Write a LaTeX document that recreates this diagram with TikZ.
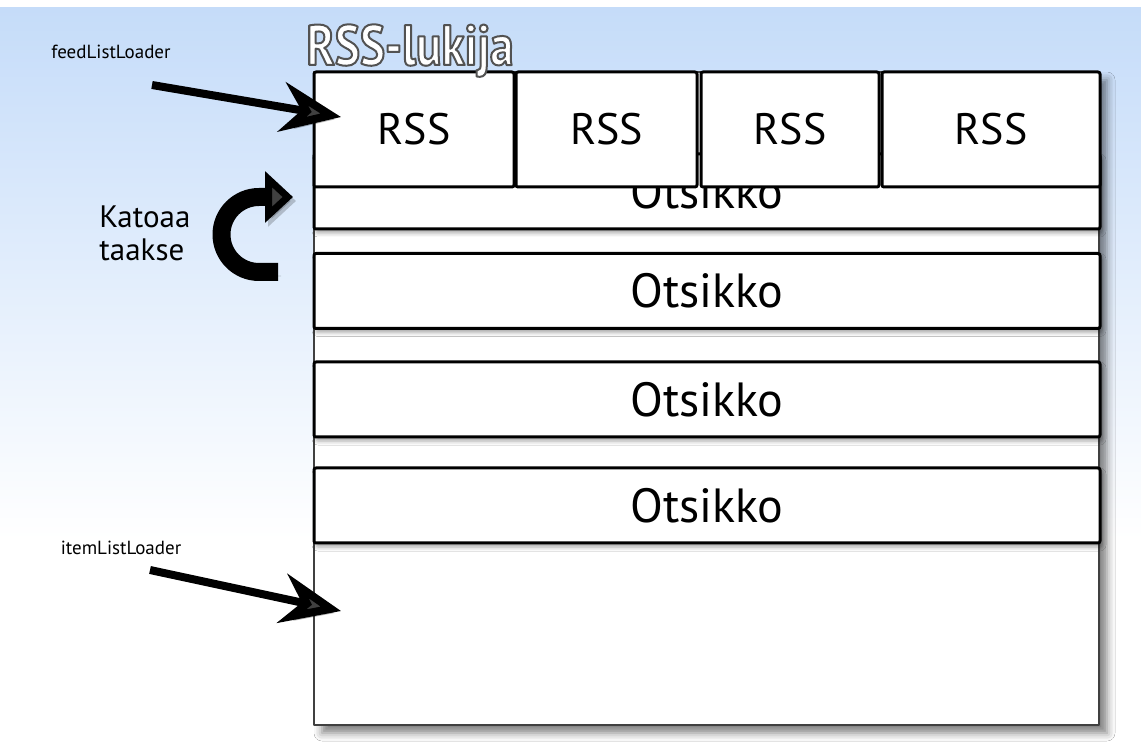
\documentclass[tikz,border=0pt]{standalone}
\usepackage{fontspec}
\setmainfont{PT Sans}
\newfontfamily\titlefont[FakeStretch=0.83]{PT Sans Bold}
\usetikzlibrary{positioning,arrows.meta,shadows.blur}

\definecolor{skyblue}{RGB}{197,220,249}
\newcommand\outlinetext[1]{\special{pdf:literal direct 2 Tr 1 w 1 1 1 rg 0.32 0.32 0.32 RG}#1\special{pdf:literal direct 0 Tr}}

\tikzset{
  rssbox/.style={draw,line width=1.5pt,rounded corners=1pt,fill=white,inner sep=0pt,outer sep=0pt,
    minimum height=57.5pt,font=\fontsize{22}{24}\selectfont},
  rowbox/.style={draw,line width=1.5pt,rounded corners=1pt,fill=white,inner sep=0pt,
    minimum width=393pt,minimum height=37.5pt,font=\fontsize{24}{26}\selectfont,
    blur shadow={shadow xshift=1pt,shadow yshift=-2pt,shadow blur radius=2pt,shadow opacity=35}},
  smalllabel/.style={font=\fontsize{9.5}{10}\selectfont,inner sep=0pt},
  arrowshadow/.style={preaction={draw=black,opacity=0.2,transform canvas={shift={(1.5pt,-2pt)}}}},
  bigarrow/.style={line width=4pt,-{Stealth[length=30pt,width=25pt,inset=10pt]},arrowshadow},
  titletxt/.style={anchor=base west,inner sep=0pt,font=\titlefont\fontsize{28.5}{30}\selectfont},
}

\begin{document}
\begin{tikzpicture}[x=0.5pt,y=-0.5pt,line join=round]
\useasboundingbox (0,0) rectangle (1141,742);
\fill[white] (0,0) rectangle (1141,742);
\shade[top color=skyblue,bottom color=white] (0,8) rectangle (1141,540);

% frame of the reader
\draw[fill=white,line width=0.7pt,draw=black!75,
  blur shadow={shadow xshift=4pt,shadow yshift=-4pt,shadow blur radius=4pt,shadow opacity=50}]
  (314,72) rectangle (1099,725);

% headline rows
\node[rowbox] (row0) at (707,191.5) {Otsikko};
\node[rowbox] (row1) at (707,291) {Otsikko};
\node[rowbox] (row2) at (707,399.5) {Otsikko};
\node[rowbox] (row3) at (707,505.5) {Otsikko};

% feed tabs
\node[rssbox,minimum width=100pt] (rss1) at (414,129.5) {RSS};
\node[rssbox,minimum width=90.5pt,right=1pt of rss1] (rss2) {RSS};
\node[rssbox,minimum width=89pt,right=2pt of rss2] (rss3) {RSS};
\node[rssbox,minimum width=109pt,right=1.5pt of rss3] (rss4) {RSS};

% title
\node[titletxt,text=white] (title) at (306,65) {\outlinetext{RSS-lukija}};

% labels and arrows
\node[smalllabel] (feedlbl) at (111,52) {feedListLoader};
\node[smalllabel] (itemlbl) at (121,548) {itemListLoader};
\node[align=left,inner sep=0pt,anchor=west,font=\fontsize{15.5}{16.5}\selectfont] (katoaa) at (99,233) {Katoaa\\taakse};

\coordinate (feedtail) at (152,85);
\coordinate (feedtip) at (341,117);
\coordinate (itemtail) at (150,570);
\coordinate (itemtip) at (341,611);
\draw[bigarrow] (feedtail) -- (feedtip);
\draw[bigarrow] (itemtail) -- (itemtip);

\coordinate (backstart) at (278,272);
\coordinate (backtip) at (293,197);
\draw[line width=9pt,-{Triangle[length=14pt,width=25pt]},arrowshadow]
  (backstart) -- (259,272) arc[start angle=90,end angle=270,radius=37.5] -- (backtip);
\end{tikzpicture}
\end{document}
